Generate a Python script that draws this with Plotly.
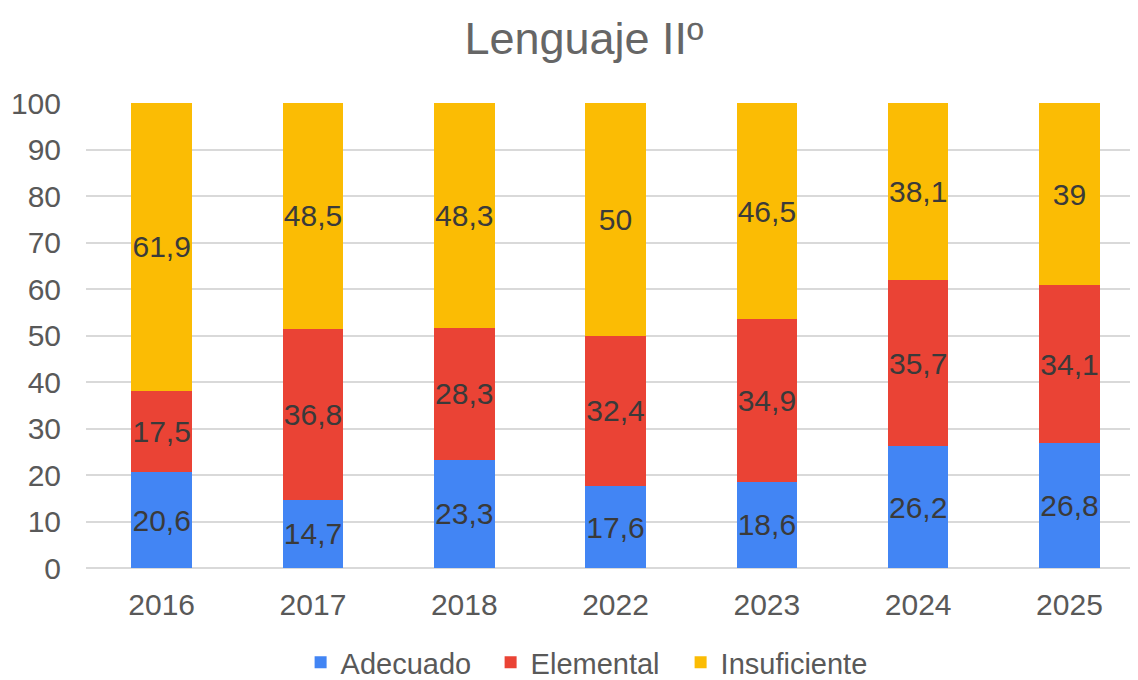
import plotly.graph_objects as go

years = ["2016", "2017", "2018", "2022", "2023", "2024", "2025"]
adecuado = [20.6, 14.7, 23.3, 17.6, 18.6, 26.2, 26.8]
elemental = [17.5, 36.8, 28.3, 32.4, 34.9, 35.7, 34.1]
insuficiente = [61.9, 48.5, 48.3, 50, 46.5, 38.1, 39]
y_ticks = [0, 10, 20, 30, 40, 50, 60, 70, 80, 90, 100]


def fmt(v):
    return f"{v:g}".replace(".", ",")


series = [
    ("Adecuado", adecuado, "#4285F4"),
    ("Elemental", elemental, "#EA4335"),
    ("Insuficiente", insuficiente, "#FBBC04"),
]

fig = go.Figure()
for name, vals, color in series:
    fig.add_trace(go.Bar(
        name=name, x=years, y=vals,
        marker=dict(color=color, line=dict(width=0)),
        text=[fmt(v) for v in vals],
        textposition="inside", insidetextanchor="middle",
        textangle=0, constraintext="none",
        textfont=dict(family="Liberation Sans, Arial", size=30, color="#3a3a3a"),
    ))

fig.update_layout(
    barmode="stack",
    bargap=0.6,
    width=1130, height=672,
    margin=dict(l=78, r=0, t=95, b=112, autoexpand=False),
    paper_bgcolor="white", plot_bgcolor="white",
    font=dict(family="Liberation Sans, Arial", color="#595959"),
    title=dict(text="Lenguaje IIº", x=0.5097, xanchor="center", xref="container",
               y=0.955, yanchor="middle", yref="container",
               font=dict(size=45, color="#666666")),
    legend=dict(orientation="h", x=0.204, xanchor="left", y=-0.203, yanchor="middle",
                font=dict(size=29, color="#595959"), traceorder="normal",
                itemwidth=30, entrywidth=145, entrywidthmode="pixels"),
    xaxis=dict(type="category", range=[-0.5, 6.453], showgrid=False, automargin=False,
               tickfont=dict(size=30, color="#595959"), ticks="",
               ticklabelstandoff=16),
    yaxis=dict(range=[0, 100], tickvals=y_ticks, showgrid=True, automargin=False,
               gridcolor="#d9d9d9", gridwidth=1.5,
               zeroline=True, zerolinecolor="#d9d9d9", zerolinewidth=1.5,
               tickfont=dict(size=30, color="#595959"), ticks="",
               ticklabelstandoff=24),
)

fig.write_html("out.html")
